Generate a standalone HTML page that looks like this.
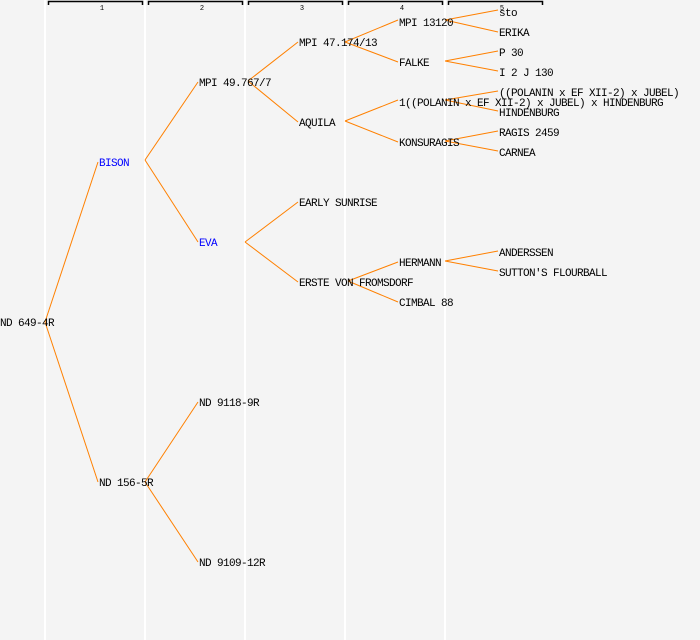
<!DOCTYPE html>
<html><head><style>
html,body{margin:0;padding:0;background:#f4f4f4;overflow:hidden;}
svg{display:block;}
svg text{font-family:"Liberation Mono",monospace;font-size:11px;letter-spacing:-0.6px;fill:#000;}
</style></head><body>
<svg width="700" height="640" xmlns="http://www.w3.org/2000/svg">
<rect width="700" height="640" fill="#f4f4f4"/>
<g stroke="#fff" stroke-width="2">
<line x1="45" y1="0" x2="45" y2="640"/><line x1="145" y1="0" x2="145" y2="640"/>
<line x1="245" y1="0" x2="245" y2="640"/><line x1="345" y1="0" x2="345" y2="640"/>
<line x1="445" y1="0" x2="445" y2="640"/>
</g>
<g stroke="#000" stroke-width="1.5" fill="none">
<path d="M48.5 5V1.5H142.5V5"/><path d="M148.5 5V1.5H242.5V5"/><path d="M248.5 5V1.5H342.5V5"/>
<path d="M348.5 5V1.5H442.5V5"/><path d="M448.5 5V1.5H542.5V5"/>
</g>
<g text-anchor="middle">
<text x="102" y="10" style="font-size:7px;letter-spacing:0">1</text><text x="202" y="10" style="font-size:7px;letter-spacing:0">2</text>
<text x="302" y="10" style="font-size:7px;letter-spacing:0">3</text><text x="402" y="10" style="font-size:7px;letter-spacing:0">4</text>
<text x="502" y="10" style="font-size:7px;letter-spacing:0">5</text>
</g>
<g stroke="#ff8000" stroke-width="1">
<line x1="45" y1="322" x2="98" y2="162"/><line x1="45" y1="322" x2="98" y2="482"/>
<line x1="145" y1="160" x2="198" y2="82"/><line x1="145" y1="160" x2="198" y2="242"/>
<line x1="145" y1="482" x2="198" y2="402"/><line x1="145" y1="482" x2="198" y2="562"/>
<line x1="248" y1="81" x2="298" y2="42"/><line x1="248" y1="81" x2="298" y2="122"/>
<line x1="245" y1="242" x2="298" y2="202"/><line x1="245" y1="242" x2="298" y2="282"/>
<line x1="345" y1="42" x2="398" y2="20"/><line x1="345" y1="42" x2="398" y2="62"/>
<line x1="345" y1="121" x2="398" y2="100"/><line x1="345" y1="121" x2="398" y2="142"/>
<line x1="348" y1="281" x2="398" y2="262"/><line x1="348" y1="281" x2="398" y2="302"/>
<line x1="445" y1="20" x2="498" y2="10"/><line x1="445" y1="20" x2="498" y2="32"/>
<line x1="445" y1="61" x2="498" y2="51"/><line x1="445" y1="61" x2="498" y2="71"/>
<line x1="445" y1="100" x2="498" y2="91"/><line x1="445" y1="100" x2="498" y2="111"/>
<line x1="445" y1="141" x2="498" y2="131"/><line x1="445" y1="141" x2="498" y2="151"/>
<line x1="445" y1="261" x2="498" y2="251"/><line x1="445" y1="261" x2="498" y2="271"/>
</g>
<text x="0" y="326">ND 649-4R</text>
<text x="99" y="166" style="fill:#0000ff">BISON</text>
<text x="99" y="486">ND 156-5R</text>
<text x="199" y="86">MPI 49.767/7</text>
<text x="199" y="246" style="fill:#0000ff">EVA</text>
<text x="199" y="406">ND 9118-9R</text>
<text x="199" y="566">ND 9109-12R</text>
<text x="299" y="46">MPI 47.174/13</text>
<text x="299" y="126">AQUILA</text>
<text x="299" y="206">EARLY SUNRISE</text>
<text x="299" y="286">ERSTE VON FROMSDORF</text>
<text x="399" y="26">MPI 13120</text>
<text x="399" y="66">FALKE</text>
<text x="399" y="106">1((POLANIN x EF XII-2) x JUBEL) x HINDENBURG</text>
<text x="399" y="146">KONSURAGIS</text>
<text x="399" y="266">HERMANN</text>
<text x="399" y="306">CIMBAL 88</text>
<text x="499" y="16">sto</text>
<text x="499" y="36">ERIKA</text>
<text x="499" y="56">P 30</text>
<text x="499" y="76">I 2 J 130</text>
<text x="499" y="96">((POLANIN x EF XII-2) x JUBEL)</text>
<text x="499" y="116">HINDENBURG</text>
<text x="499" y="136">RAGIS 2459</text>
<text x="499" y="156">CARNEA</text>
<text x="499" y="256">ANDERSSEN</text>
<text x="499" y="276">SUTTON'S FLOURBALL</text>
</svg>
</body></html>
